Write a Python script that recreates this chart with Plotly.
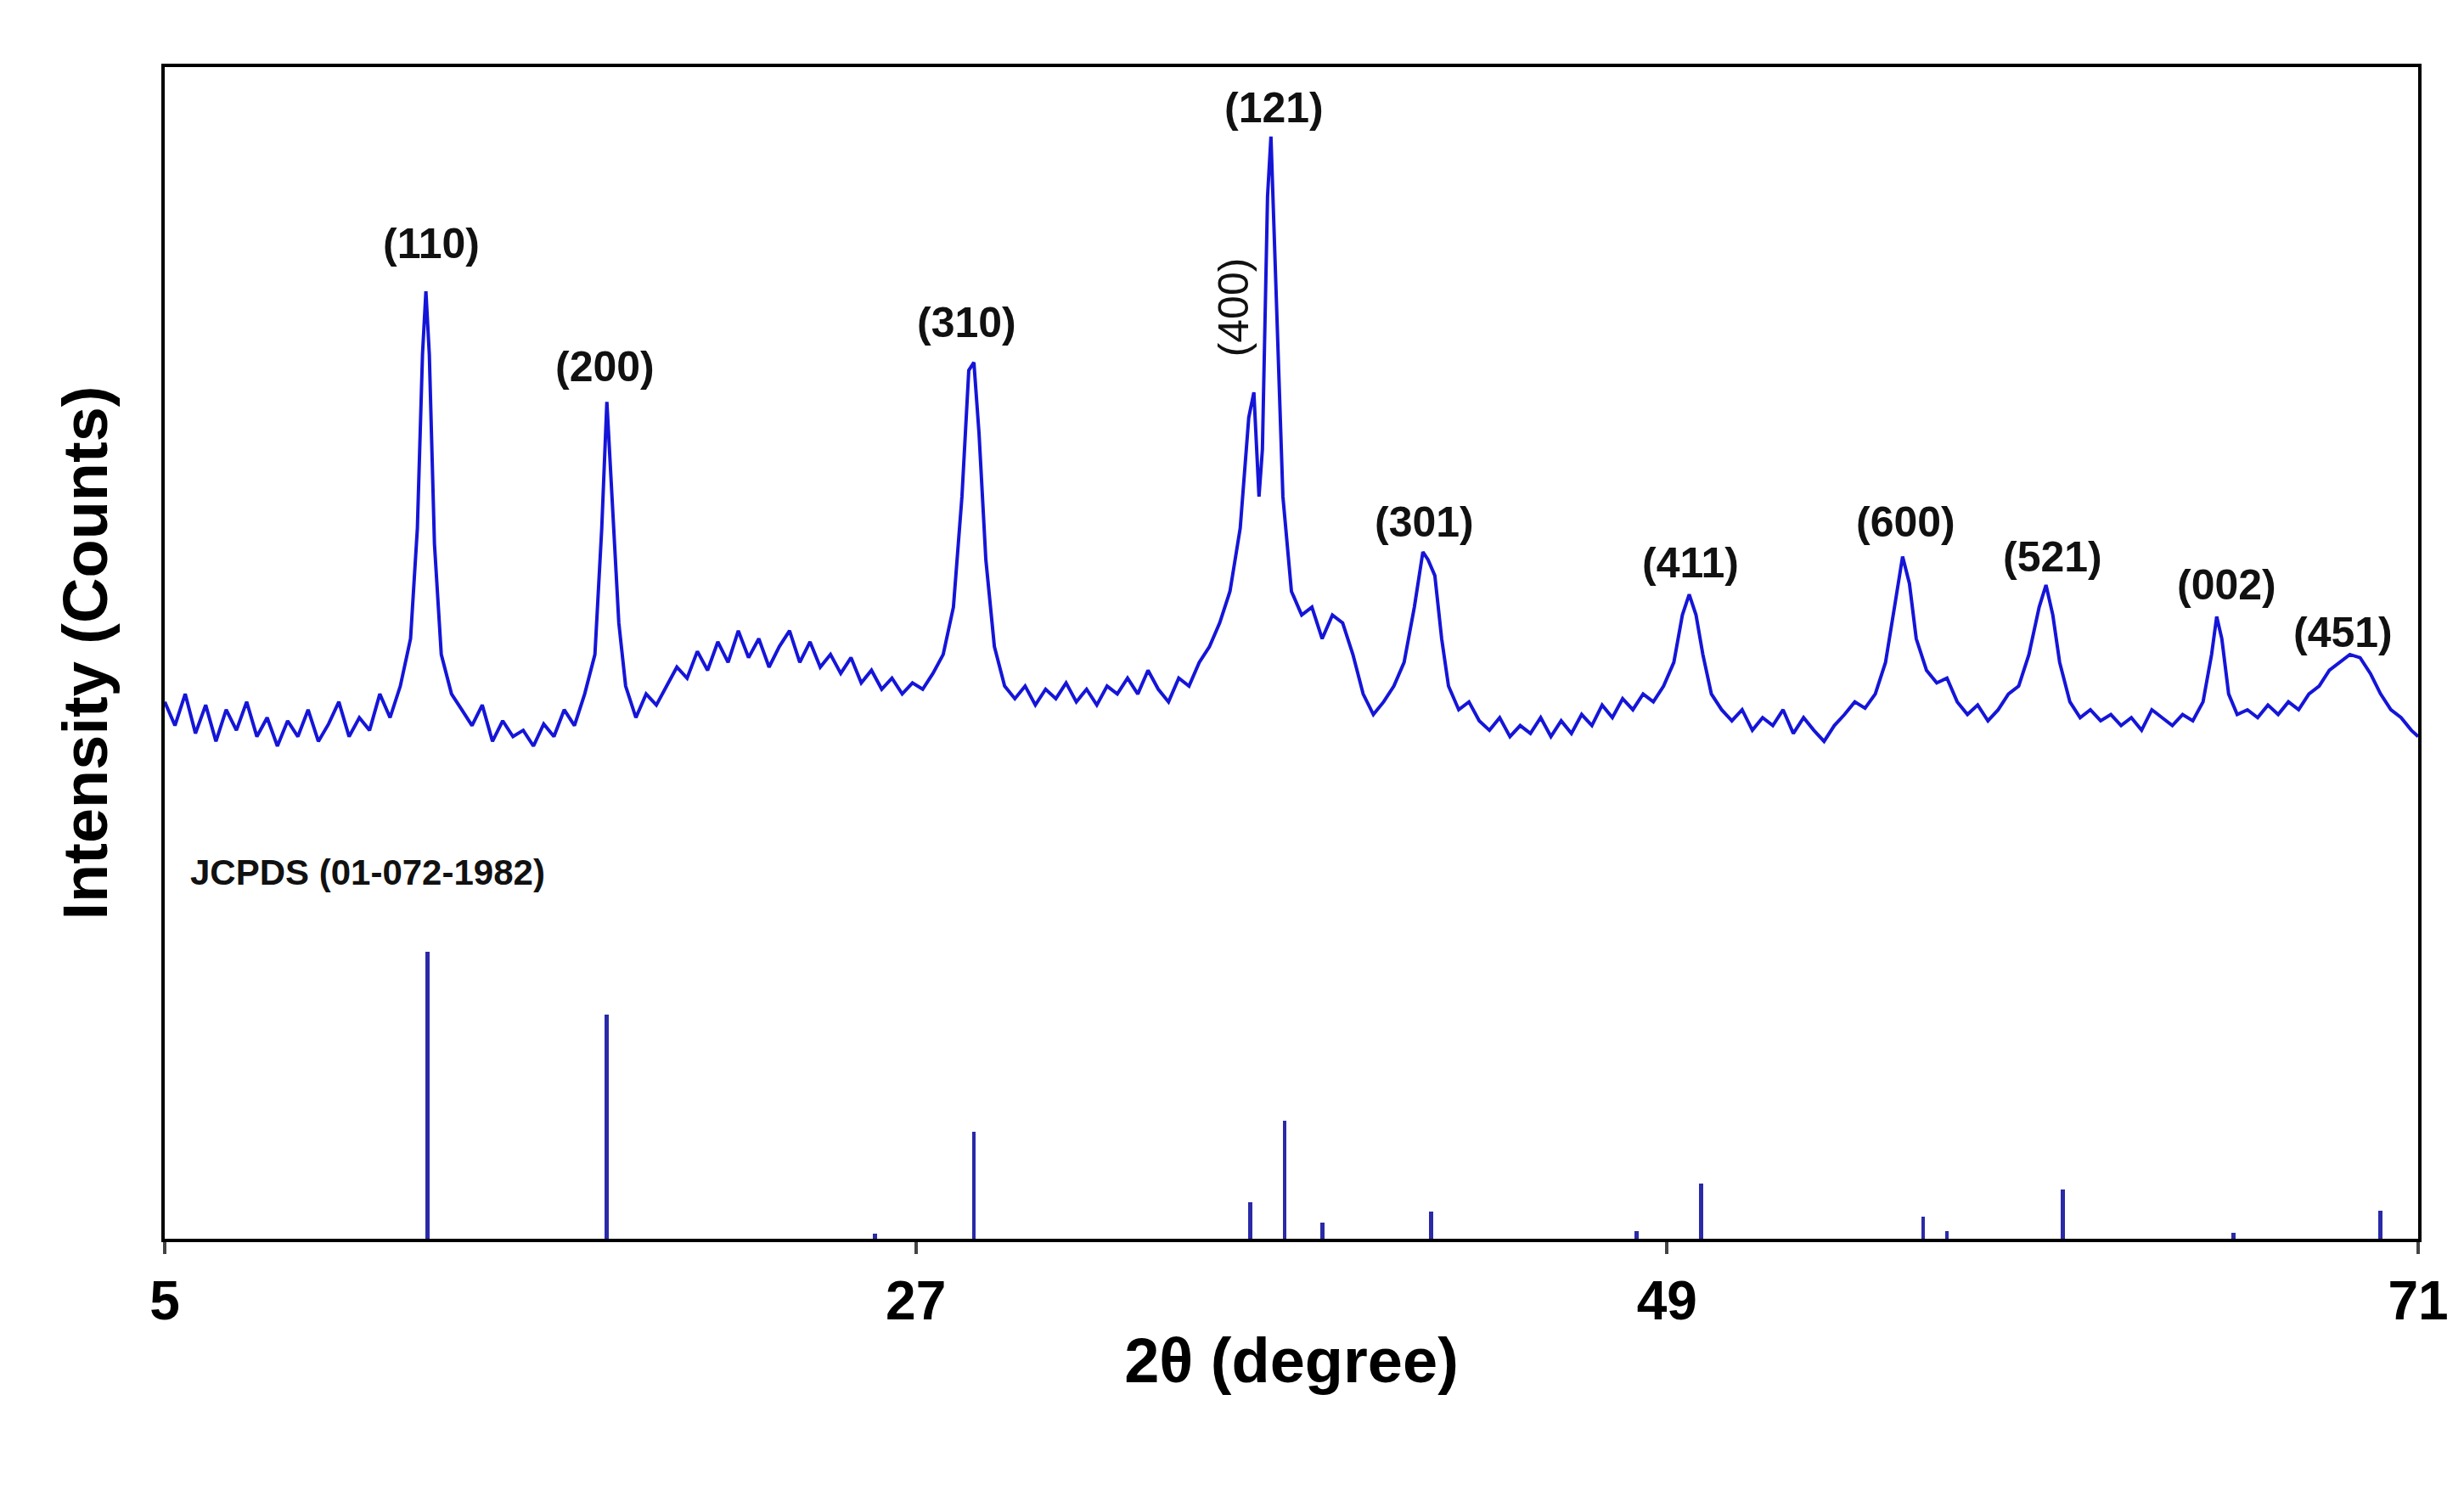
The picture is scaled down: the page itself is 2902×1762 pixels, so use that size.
import plotly.graph_objects as go

pts = [(5.0,340),(5.3,325),(5.6,345),(5.9,320),(6.2,338),(6.5,315),(6.8,335),(7.1,322),(7.4,340),(7.7,318),(8.0,330),(8.3,312),(8.6,328),(8.9,318),(9.2,335),(9.5,315),(9.8,326),(10.1,340),(10.4,318),(10.7,330),(11.0,322),(11.3,345),(11.6,330),(11.9,350),(12.2,380),(12.4,450),(12.55,560),(12.65,600),(12.75,560),(12.9,440),(13.1,370),(13.4,345),(13.7,335),(14.0,325),(14.3,338),(14.6,315),(14.9,328),(15.2,318),(15.5,322),(15.8,312),(16.1,326),(16.4,318),(16.7,335),(17.0,325),(17.3,345),(17.6,370),(17.8,450),(17.95,530),(18.1,470),(18.3,390),(18.5,350),(18.8,330),(19.1,345),(19.4,338),(19.7,350),(20.0,362),(20.3,355),(20.6,372),(20.9,360),(21.2,378),(21.5,365),(21.8,385),(22.1,368),(22.4,380),(22.7,362),(23.0,375),(23.3,385),(23.6,365),(23.9,378),(24.2,362),(24.5,370),(24.8,358),(25.1,368),(25.4,352),(25.7,360),(26.0,348),(26.3,355),(26.6,345),(26.9,352),(27.2,348),(27.5,358),(27.8,370),(28.1,400),(28.35,470),(28.55,550),(28.7,555),(28.85,510),(29.05,430),(29.3,375),(29.6,350),(29.9,342),(30.2,350),(30.5,338),(30.8,348),(31.1,342),(31.4,352),(31.7,340),(32.0,348),(32.3,338),(32.6,350),(32.9,345),(33.2,355),(33.5,345),(33.8,360),(34.1,348),(34.4,340),(34.7,355),(35.0,350),(35.3,365),(35.6,375),(35.9,390),(36.2,410),(36.5,450),(36.75,520),(36.9,536),(37.05,470),(37.15,500),(37.3,660),(37.4,698),(37.55,600),(37.75,470),(38.0,410),(38.3,395),(38.6,400),(38.9,380),(39.2,395),(39.5,390),(39.8,370),(40.1,345),(40.4,332),(40.7,340),(41.0,350),(41.3,365),(41.6,400),(41.85,435),(42.0,430),(42.2,420),(42.4,380),(42.6,350),(42.9,335),(43.2,340),(43.5,328),(43.8,322),(44.1,330),(44.4,318),(44.7,325),(45.0,320),(45.3,330),(45.6,318),(45.9,328),(46.2,320),(46.5,332),(46.8,325),(47.1,338),(47.4,330),(47.7,342),(48.0,335),(48.3,345),(48.6,340),(48.9,350),(49.2,365),(49.45,395),(49.65,408),(49.85,395),(50.05,370),(50.3,345),(50.6,335),(50.9,328),(51.2,335),(51.5,322),(51.8,330),(52.1,325),(52.4,335),(52.7,320),(53.0,330),(53.3,322),(53.6,315),(53.9,325),(54.2,332),(54.5,340),(54.8,336),(55.1,345),(55.4,365),(55.7,405),(55.9,432),(56.1,415),(56.3,380),(56.6,360),(56.9,352),(57.2,355),(57.5,340),(57.8,332),(58.1,338),(58.4,328),(58.7,335),(59.0,345),(59.3,350),(59.6,370),(59.9,400),(60.1,414),(60.3,395),(60.5,365),(60.8,340),(61.1,330),(61.4,335),(61.7,328),(62.0,332),(62.3,325),(62.6,330),(62.9,322),(63.2,335),(63.5,330),(63.8,325),(64.1,332),(64.4,328),(64.7,340),(64.95,370),(65.1,394),(65.25,380),(65.45,345),(65.7,332),(66.0,335),(66.3,330),(66.6,338),(66.9,332),(67.2,340),(67.5,335),(67.8,345),(68.1,350),(68.4,360),(68.7,365),(69.0,370),(69.3,368),(69.6,358),(69.9,345),(70.2,335),(70.5,330),(70.8,322),(71.0,318)]
two_theta = [p[0] for p in pts]
intensity = [p[1] for p in pts]

ref_pos = [12.7, 17.95, 25.8, 28.7, 36.8, 37.8, 38.9, 42.1, 48.1, 50.0, 56.5, 57.2, 60.6, 65.6, 69.9]
ref_int = [182, 142, 3, 68, 23, 75, 10, 17, 5, 35, 14, 5, 31, 4, 18]

hkl_labels = ["(110)", "(200)", "(310)", "(121)", "(301)", "(411)", "(600)", "(521)", "(002)", "(451)"]
hkl_x = [12.8, 17.9, 28.5, 37.5, 41.9, 49.7, 56.0, 60.3, 65.4, 68.8]
hkl_y = [630, 552, 580, 716, 454, 428, 454, 432, 414, 384]

fig = go.Figure()
fig.add_trace(go.Scatter(x=two_theta, y=intensity, mode="lines",
                         line=dict(color="#1515d8", width=4), showlegend=False))
fig.add_trace(go.Bar(x=ref_pos, y=ref_int, width=0.12, marker=dict(color="#2a2aa8", line=dict(width=0)),
                     showlegend=False))

lab_font = dict(family="Liberation Sans", size=50, color="#111", weight="bold")
for t, x, y in zip(hkl_labels, hkl_x, hkl_y):
    fig.add_annotation(x=x, y=y, text="<b>%s</b>" % t, showarrow=False, font=lab_font)
fig.add_annotation(x=36.3, y=590, text="(400)", showarrow=False, textangle=-90,
                   font=dict(family="Liberation Sans", size=50, color="#111"))
fig.add_annotation(x=5.7, y=232, text="<b>JCPDS (01-072-1982)</b>", showarrow=False, xanchor="left",
                   font=dict(family="Liberation Sans", size=42, color="#111"))

fig.update_layout(
    width=2902, height=1762, plot_bgcolor="white", paper_bgcolor="white",
    margin=dict(l=186, r=62, t=71, b=311), bargap=0,
    xaxis=dict(range=[5, 71], tickvals=[5, 27, 49, 71], ticks="outside", ticklen=14, tickwidth=4,
               showline=True, linewidth=4, linecolor="black", mirror=True, showgrid=False, zeroline=False,
               tickfont=dict(family="Liberation Sans Narrow, Liberation Sans", size=64, color="black", weight="bold"),
               title=dict(text="<b>2θ (degree)</b>", standoff=10,
                          font=dict(family="Liberation Sans", size=74, color="black"))),
    yaxis=dict(range=[0, 742], showticklabels=False, ticks="", showline=True, linewidth=4,
               linecolor="black", mirror=True, showgrid=False, zeroline=False,
               title=dict(text="<b>Intensity (Counts)</b>", standoff=40,
                          font=dict(family="Liberation Sans", size=74, color="black"))),
)
fig.write_html("out.html")
